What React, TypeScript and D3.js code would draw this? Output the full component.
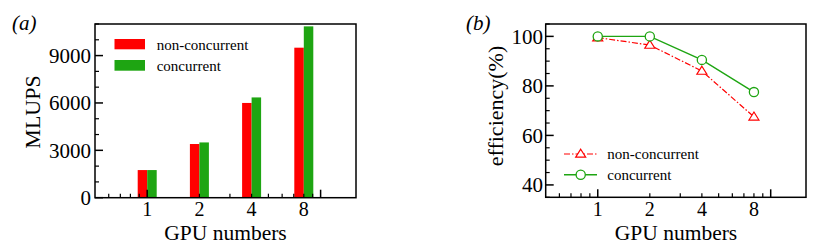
import * as d3 from 'd3';

const GPUS = [1, 2, 4, 8];
const MLUPS_NONCONC = [1750, 3400, 6000, 9500];
const MLUPS_CONC = [1750, 3500, 6350, 10850];
const EFF_NONCONC = [99.5, 96.5, 86, 67.5];
const EFF_CONC = [100, 100, 90.5, 77.5];
const MLUPS_TICKS = [0, 3000, 6000, 9000];
const EFF_TICKS = [40, 60, 80, 100];

const RED = '#ff0000';
const GREEN = '#1ea512';
const FONT = "'Liberation Serif', 'Times New Roman', serif";

// log minor ticks inside [0.5, 16]
const minorX = [0.6, 0.7, 0.8, 0.9, 2, 3, 4, 5, 6, 7, 8, 9];
const majorX = [1, 10];

function XAxis({ x, y0 }: { x: d3.ScaleLogarithmic<number, number>; y0: number }) {
  return (
    <g stroke="#000" strokeWidth={1.2}>
      {minorX.map((v) => (
        <line key={'m' + v} x1={x(v)} x2={x(v)} y1={y0} y2={y0 - 4} />
      ))}
      {majorX.map((v) => (
        <line key={'M' + v} x1={x(v)} x2={x(v)} y1={y0} y2={y0 - 8} strokeWidth={1.5} />
      ))}
    </g>
  );
}

function BarPanel() {
  const x = d3.scaleLog().domain([0.5, 16]).range([95, 356]);
  const y = d3.scaleLinear().domain([0, 11000]).range([197.7, 24]);
  const bw = 9.5;
  const minorY = d3.range(0, 11001, 1000).filter((v) => v % 3000 !== 0);
  return (
    <g fontFamily={FONT}>
      {GPUS.map((g, i) => (
        <g key={g}>
          <rect x={x(g) - bw} y={y(MLUPS_NONCONC[i])} width={bw} height={y(0) - y(MLUPS_NONCONC[i])} fill={RED} />
          <rect x={x(g)} y={y(MLUPS_CONC[i])} width={bw} height={y(0) - y(MLUPS_CONC[i])} fill={GREEN} />
        </g>
      ))}
      <XAxis x={x} y0={y(0)} />
      <g stroke="#000" strokeWidth={1.2}>
        {minorY.map((v) => (
          <line key={v} x1={95} x2={99} y1={y(v)} y2={y(v)} />
        ))}
        {MLUPS_TICKS.map((v) => (
          <line key={'M' + v} x1={95} x2={103} y1={y(v)} y2={y(v)} strokeWidth={1.5} />
        ))}
      </g>
      <rect x={95} y={24} width={261} height={y(0) - 24} fill="none" stroke="#000" strokeWidth={1.5} />
      {MLUPS_TICKS.map((v) => (
        <text key={v} x={91} y={y(v)} dy="0.35em" textAnchor="end" fontSize={21}>
          {v}
        </text>
      ))}
      {GPUS.map((g) => (
        <text key={g} x={x(g)} y={216} textAnchor="middle" fontSize={20}>
          {g}
        </text>
      ))}
      <text x={225.5} y={240} textAnchor="middle" fontSize={21.5}>
        GPU numbers
      </text>
      <text transform="translate(40,112) rotate(-90)" textAnchor="middle" fontSize={22}>
        MLUPS
      </text>
      <text x={12} y={30} fontSize={21} fontStyle="italic">
        (a)
      </text>
      <rect x={114.5} y={39} width={30.5} height={10.3} fill={RED} />
      <rect x={114.5} y={60} width={30.5} height={10.7} fill={GREEN} />
      <text x={156.7} y={49.5} fontSize={15}>
        non-concurrent
      </text>
      <text x={156.7} y={70.5} fontSize={15}>
        concurrent
      </text>
    </g>
  );
}

function triPath(cx: number, cy: number, s: number) {
  const h = s * 0.8;
  return `M${cx},${cy - h * 0.6}L${cx + s / 2},${cy + h * 0.4}L${cx - s / 2},${cy + h * 0.4}Z`;
}

function LinePanel() {
  const x = d3.scaleLog().domain([0.5, 16]).range([545.7, 806]);
  const y = d3.scaleLinear().domain([35, 105]).range([197.3, 24]);
  const minorY = d3.range(35, 106, 5).filter((v) => v % 20 !== 0);
  const line = d3
    .line<number>()
    .x((_, i) => x(GPUS[i]))
    .y((d) => y(d));
  return (
    <g fontFamily={FONT}>
      <XAxis x={x} y0={y(35)} />
      <g stroke="#000" strokeWidth={1.2}>
        {minorY.map((v) => (
          <line key={v} x1={545.7} x2={549.7} y1={y(v)} y2={y(v)} />
        ))}
        {EFF_TICKS.map((v) => (
          <line key={'M' + v} x1={545.7} x2={553.7} y1={y(v)} y2={y(v)} strokeWidth={1.5} />
        ))}
      </g>
      <path d={line(EFF_NONCONC) || ''} fill="none" stroke={RED} strokeWidth={1.2} strokeDasharray="6,2,1.5,2" />
      <path d={line(EFF_CONC) || ''} fill="none" stroke={GREEN} strokeWidth={1.4} />
      {EFF_NONCONC.map((v, i) => (
        <path key={i} d={triPath(x(GPUS[i]), y(v), 10)} fill="#fff" stroke={RED} strokeWidth={1.2} />
      ))}
      {EFF_CONC.map((v, i) => (
        <circle key={i} cx={x(GPUS[i])} cy={y(v)} r={4.6} fill="#fff" stroke={GREEN} strokeWidth={1.3} />
      ))}
      <rect x={545.7} y={24} width={260.3} height={y(35) - 24} fill="none" stroke="#000" strokeWidth={1.5} />
      {EFF_TICKS.map((v) => (
        <text key={v} x={543} y={y(v)} dy="0.35em" textAnchor="end" fontSize={21}>
          {v}
        </text>
      ))}
      {GPUS.map((g) => (
        <text key={g} x={x(g)} y={216} textAnchor="middle" fontSize={20}>
          {g}
        </text>
      ))}
      <text x={676} y={240} textAnchor="middle" fontSize={21.5}>
        GPU numbers
      </text>
      <text transform="translate(503,106) rotate(-90)" textAnchor="middle" fontSize={22}>
        efficiency(%)
      </text>
      <text x={466} y={30} fontSize={21} fontStyle="italic">
        (b)
      </text>
      <line x1={564} x2={597} y1={154} y2={154} stroke={RED} strokeWidth={1.2} strokeDasharray="6,2,1.5,2" />
      <path d={triPath(580.7, 154, 10)} fill="#fff" stroke={RED} strokeWidth={1.2} />
      <line x1={564} x2={597} y1={174.7} y2={174.7} stroke={GREEN} strokeWidth={1.4} />
      <circle cx={580.7} cy={174.7} r={4.6} fill="#fff" stroke={GREEN} strokeWidth={1.3} />
      <text x={607.3} y={159} fontSize={15}>
        non-concurrent
      </text>
      <text x={607.3} y={179.5} fontSize={15}>
        concurrent
      </text>
    </g>
  );
}

export default function App() {
  return (
    <svg width={830} height={249} style={{ position: 'absolute', left: 0, top: 0, background: '#fff' }}>
      <rect width={830} height={249} fill="#fff" />
      <BarPanel />
      <LinePanel />
    </svg>
  );
}
